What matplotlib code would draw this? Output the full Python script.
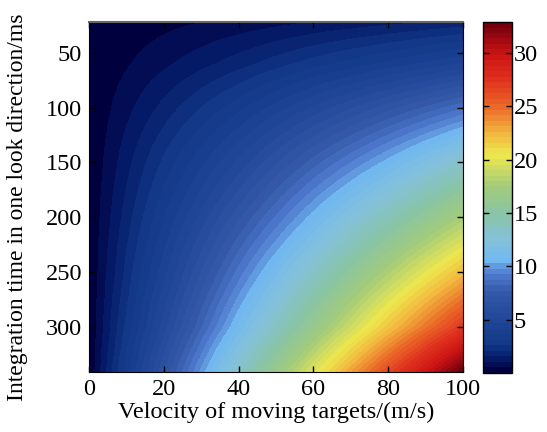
import numpy as np
import matplotlib
matplotlib.use("Agg")
import matplotlib.pyplot as plt
from matplotlib.colors import LinearSegmentedColormap, Normalize

plt.rcParams["font.family"] = ["Liberation Serif", "DejaVu Serif"]
plt.rcParams["font.size"] = 17.5

# velocity samples (m/s) and integration-time samples (ms)
velocity = [0, 20, 40, 60, 80, 100]
int_time = [20, 60, 100, 140, 180, 220, 260, 300, 340]
# migration value, one row per integration time, one column per velocity
migration = [
    [0, 0.3, 0.6, 0.9, 1.2, 1.5],
    [0, 0.9, 1.8, 2.8, 3.7, 4.6],
    [0, 1.7, 3.4, 5.2, 6.9, 8.6],
    [0, 2.5, 4.9, 7.4, 9.8, 12.3],
    [0, 3.2, 6.3, 9.5, 12.6, 15.8],
    [0, 3.9, 7.8, 11.6, 15.5, 19.4],
    [0, 4.6, 9.3, 13.9, 18.6, 23.2],
    [0, 5.4, 10.9, 16.3, 21.8, 27.2],
    [0, 6.6, 13.2, 19.7, 26.3, 32.9],
]
y_ticks = [50, 100, 150, 200, 250, 300]
x_ticks = [0, 20, 40, 60, 80, 100]
cb_ticks = [5, 10, 15, 20, 25, 30]

z = np.array(migration)
zmax = z.max()

# banded jet-like map
anchors = [
    (0.0, (0.00, 0.00, 0.25)),
    (1.0, (0.02, 0.10, 0.40)),
    (2.5, (0.07, 0.22, 0.53)),
    (5.0, (0.13, 0.28, 0.60)),
    (7.5, (0.21, 0.35, 0.66)),
    (9.0, (0.30, 0.47, 0.80)),
    (9.8, (0.37, 0.57, 0.86)),
    (10.3, (0.44, 0.72, 0.95)),
    (12.5, (0.52, 0.76, 0.85)),
    (15.0, (0.54, 0.77, 0.64)),
    (17.5, (0.64, 0.80, 0.48)),
    (20.5, (0.93, 0.91, 0.31)),
    (22.5, (0.95, 0.72, 0.25)),
    (25.0, (0.92, 0.42, 0.16)),
    (27.5, (0.88, 0.20, 0.12)),
    (30.0, (0.80, 0.08, 0.08)),
    (zmax, (0.45, 0.00, 0.05)),
]
cmap = LinearSegmentedColormap.from_list(
    "mig", [(v / zmax, c) for v, c in anchors], N=64)

fig = plt.figure(figsize=(5.47, 4.32), dpi=100)
ax = fig.add_axes([0.1627, 0.1389, 0.6837, 0.8102])
cax = fig.add_axes([0.883, 0.137, 0.053, 0.812])

dv = velocity[1] - velocity[0]
dt = int_time[1] - int_time[0]
ext = (velocity[0] - dv / 2, velocity[-1] + dv / 2,
       int_time[-1] + dt / 2, int_time[0] - dt / 2)
im = ax.imshow(z, cmap=cmap, norm=Normalize(0, zmax), extent=ext,
               origin="upper", aspect="auto", interpolation="bilinear",
               interpolation_stage="data")
ax.set_xlim(0, 100)
ax.set_ylim(341, 22)
ax.set_xticks(x_ticks)
ax.set_yticks(y_ticks)
ax.tick_params(direction="in", top=True, right=True, length=4, width=1, pad=5)
ax.spines["top"].set_color("#666666")
ax.spines["top"].set_linewidth(1.5)
ax.set_xlabel("Velocity of moving targets/(m/s)", labelpad=1)
ax.set_ylabel("Integration time in one look direction/ms", fontsize=17)
ax.yaxis.set_label_coords(-0.163, 0.472)

cb = fig.colorbar(im, cax=cax, ticks=cb_ticks)
cb.outline.set_linewidth(1)
cax.tick_params(direction="in", left=True, right=True, length=4, width=1, pad=1)

fig.savefig("out.png", dpi=100, facecolor="white")
